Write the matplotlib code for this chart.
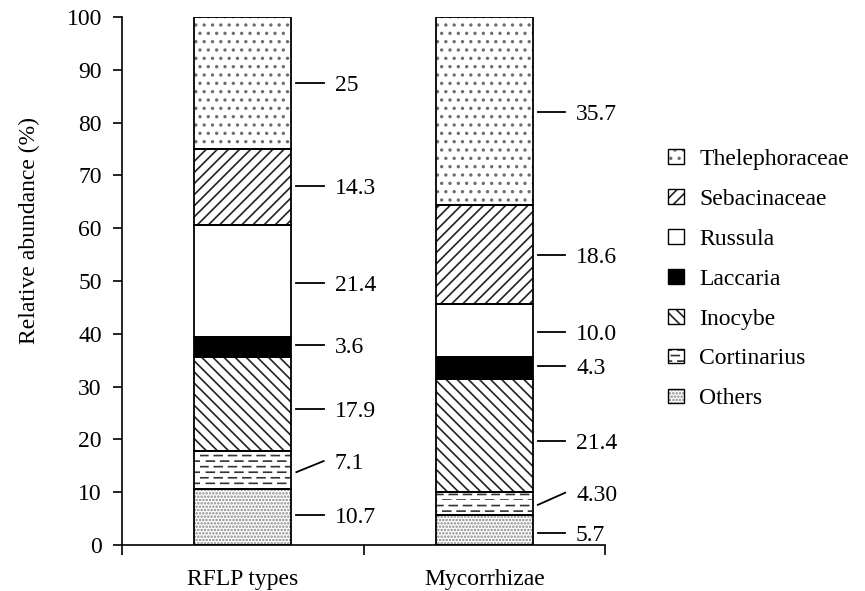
import numpy as np
import matplotlib
matplotlib.use("Agg")
import matplotlib.pyplot as plt
import matplotlib.hatch as mhatch
from matplotlib.path import Path
from matplotlib.patches import Patch

# ---------------- data ----------------
groups = ["RFLP types", "Mycorrhizae"]
taxa = ["Others", "Cortinarius", "Inocybe", "Laccaria", "Russula",
        "Sebacinaceae", "Thelephoraceae"]
rflp_values = [10.7, 7.1, 17.9, 3.6, 21.4, 14.3, 25.0]
myco_values = [5.7, 4.3, 21.4, 4.3, 10.0, 18.6, 35.7]
rflp_labels = ["10.7", "7.1", "17.9", "3.6", "21.4", "14.3", "25"]
myco_labels = ["5.7", "4.30", "21.4", "4.3", "10.0", "18.6", "35.7"]
# leader-line heights (start at bar, end at label)
rflp_lead_start = [5.7, 13.8, 25.8, 37.9, 49.6, 68.0, 87.5]
rflp_lead_end = [5.7, 15.9, 25.8, 37.9, 49.6, 68.0, 87.5]
myco_lead_start = [2.3, 7.6, 19.7, 33.9, 40.3, 54.9, 82.0]
myco_lead_end = [2.3, 9.9, 19.7, 33.9, 40.3, 54.9, 82.0]
yticks = list(range(0, 101, 10))

# ---------------- styles ----------------
face = {"Others": "white", "Cortinarius": "white", "Inocybe": "white",
        "Laccaria": "black", "Russula": "white", "Sebacinaceae": "white",
        "Thelephoraceae": "white"}
hatch = {"Others": ".....", "Cortinarius": "---", "Inocybe": "\\\\\\",
         "Laccaria": None, "Russula": None, "Sebacinaceae": "///",
         "Thelephoraceae": ".."}
hcol = {"Others": "#858585", "Cortinarius": "#333333", "Inocybe": "#222222",
        "Laccaria": "black", "Russula": "white", "Sebacinaceae": "#222222",
        "Thelephoraceae": "#6e6e6e"}


# dashed horizontal hatch to mimic the Cortinarius pattern
class DashedHorizontal(mhatch.HatchPatternBase):
    def __init__(self, hatch, density):
        self.num_lines = int(hatch.count('-') + hatch.count('+')) * density
        self.ndash = 7
        self.num_vertices = self.num_lines * self.ndash * 2

    def set_vertices_and_codes(self, vertices, codes):
        steps = np.linspace(0.0, 1.0, self.num_lines, False)
        k = 0
        per = 1.0 / self.ndash
        for i, y in enumerate(steps):
            off = (i % 2) * 0.45 * per
            for j in range(self.ndash):
                x0 = j * per + off
                vertices[k] = (x0, y)
                vertices[k + 1] = (min(x0 + 0.55 * per, 1.0), y)
                codes[k] = Path.MOVETO
                codes[k + 1] = Path.LINETO
                k += 2


mhatch._hatch_types = [DashedHorizontal if t is mhatch.HorizontalHatch else t
                       for t in mhatch._hatch_types]

plt.rcParams['font.family'] = ['Liberation Serif', 'DejaVu Serif']
plt.rcParams['hatch.linewidth'] = 1.2

fig = plt.figure(figsize=(8.65, 5.91), dpi=100)
ax = fig.add_axes([122 / 865, 46 / 591, 483 / 865, 528 / 591])

x = np.arange(len(groups))
width = 0.4
all_vals = [rflp_values, myco_values]
all_labels = [rflp_labels, myco_labels]
all_start = [rflp_lead_start, myco_lead_start]
all_end = [rflp_lead_end, myco_lead_end]

for gi in range(len(groups)):
    bottom = 0.0
    for t, v, lab, y0, y1 in zip(taxa, all_vals[gi], all_labels[gi],
                                 all_start[gi], all_end[gi]):
        ax.bar(x[gi], v, width, bottom=bottom, color=face[t],
               hatch=hatch[t], edgecolor=hcol[t], linewidth=0, zorder=2)
        ax.bar(x[gi], v, width, bottom=bottom, fill=False,
               edgecolor='black', linewidth=1.3, zorder=3)
        edge = x[gi] + width / 2
        ax.plot([edge + 0.022, edge + 0.135], [y0, y1],
                color='black', lw=1.3, clip_on=False, zorder=3)
        ax.text(edge + 0.18, y1, lab, ha='left', va='center_baseline',
                fontsize=17)
        bottom += v

ax.set_xlim(-0.5, 1.5)
ax.set_ylim(0, 100)
ax.set_yticks(yticks)
ax.set_xticks(x)
ax.set_xticklabels(groups, fontsize=17)
ax.set_xticks([-0.5, 0.5, 1.5], minor=True)
ax.tick_params(axis='x', which='major', length=0, pad=17)
ax.tick_params(axis='x', which='minor', length=7, width=1.2, direction='out')
ax.tick_params(axis='y', length=6.5, width=1.2, direction='out', labelsize=17, pad=8)
ax.set_ylabel("Relative abundance (%)", fontsize=17)
ax.yaxis.set_label_coords(-0.17, 0.595)
for s in ['top', 'right']:
    ax.spines[s].set_visible(False)
for s in ['left', 'bottom']:
    ax.spines[s].set_linewidth(1.2)

handles = []
for t in taxa[::-1]:
    handles.append((Patch(facecolor=face[t], hatch=hatch[t], edgecolor=hcol[t], linewidth=0),
                    Patch(fill=False, edgecolor='black', linewidth=1.0)))
leg = fig.legend(handles, taxa[::-1], loc='upper left',
                 bbox_to_anchor=(668 / 865, 1 - 149 / 591), frameon=False,
                 fontsize=17, handlelength=0.68, handleheight=0.58,
                 handletextpad=0.65, labelspacing=0.8, borderaxespad=0,
                 borderpad=0)

fig.savefig("out.png", dpi=100)
